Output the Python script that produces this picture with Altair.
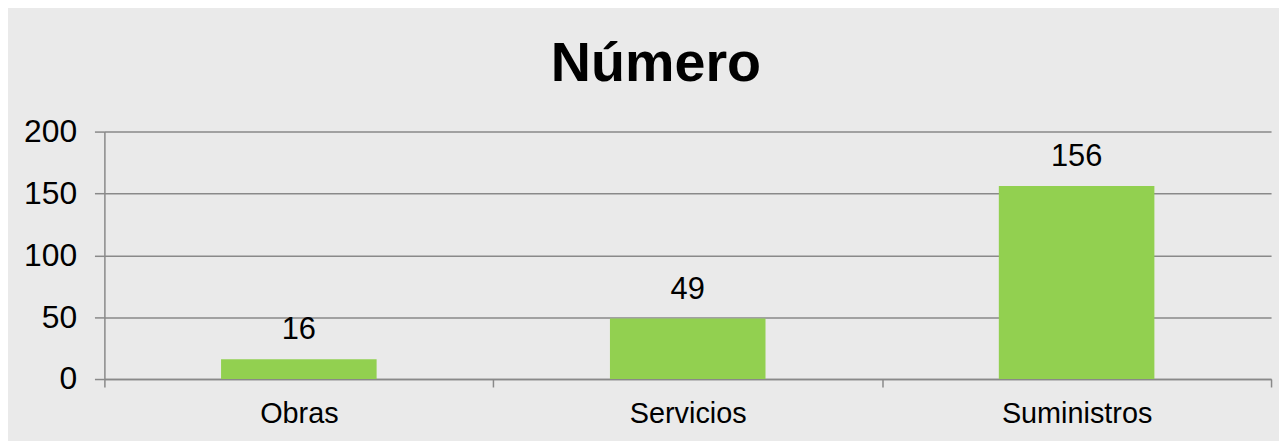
import altair as alt
import pandas as pd

categories = ["Obras", "Servicios", "Suministros"]
values = [16, 49, 156]
y_ticks = [0, 50, 100, 150, 200]

df = pd.DataFrame({"categoria": categories, "numero": values})

GRAY = "#898989"
FONT = "Liberation Sans"

base = alt.Chart(df).encode(
    x=alt.X(
        "categoria:N", sort=categories, title=None,
        scale=alt.Scale(paddingInner=0, paddingOuter=0),
        axis=alt.Axis(labelAngle=0, labelFont=FONT, labelFontSize=29, labelColor="#000000",
                      labelPadding=13, tickBand="extent", tickSize=8, tickColor=GRAY,
                      tickWidth=1.5, domainColor=GRAY, domainWidth=1.5, grid=False),
    ),
    y=alt.Y(
        "numero:Q", title=None, scale=alt.Scale(domain=[0, 200]),
        axis=alt.Axis(values=y_ticks, labelFont=FONT, labelFontSize=32, labelColor="#000000",
                      labelPadding=18, tickSize=10, tickColor=GRAY, tickWidth=1.5,
                      domainColor=GRAY, domainWidth=1.5, gridColor=GRAY, gridWidth=1.5),
    ),
)

bars = base.mark_bar(color="#92D050", width=alt.RelativeBandSize(0.4))
labels = base.mark_text(dy=-20, baseline="alphabetic", fontSize=31, font=FONT,
                        color="#000000").encode(text="numero:Q")

chart = (bars + labels).properties(
    width=1174, height=249,
    title=alt.TitleParams("Número", fontSize=56, font=FONT, fontWeight="bold",
                          color="#000000", offset=23, dx=-32),
    background="#EAEAEA",
    padding={"left": 97, "top": 123, "right": 8, "bottom": 61},
    autosize="none",
).configure_view(stroke=None)

chart.save("out.html", embed_options={"renderer": "svg", "actions": False})
